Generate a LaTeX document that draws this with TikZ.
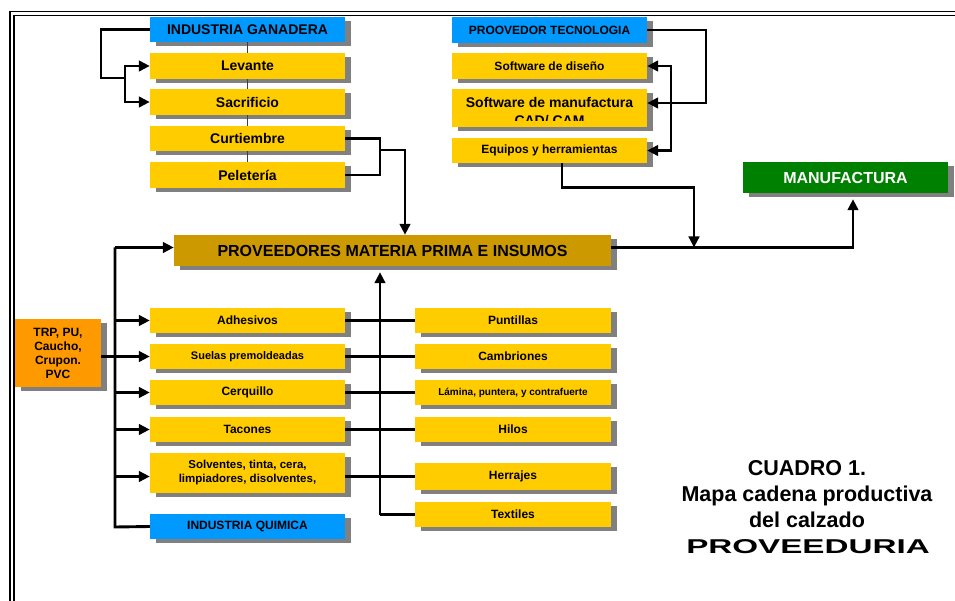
\documentclass[tikz,border=0pt]{standalone}
\usepackage{fontspec}
\setmainfont{Liberation Sans}
\usetikzlibrary{arrows.meta,shadows}
\definecolor{cblue}{HTML}{0099FF}
\definecolor{cyel}{HTML}{FFCC00}
\definecolor{cgold}{HTML}{CC9900}
\definecolor{corange}{HTML}{FF9900}
\definecolor{cgreen}{HTML}{008000}
\definecolor{cshadow}{HTML}{808080}
\definecolor{cthin}{HTML}{404040}
\newcommand\myfs[1]{\fontsize{#1}{#1}\selectfont\bfseries}
\newcommand\myfsl[2]{\fontsize{#1}{#2}\selectfont\bfseries}
\tikzset{
  box/.style={rectangle, inner sep=0pt, align=center, text=black,
    general shadow={fill=cshadow, shadow xshift=6pt, shadow yshift=-4pt}},
  ybox/.style={box, fill=cyel, minimum width=195pt, minimum height=26pt},
  rbox/.style={box, fill=cyel, minimum width=196pt, minimum height=26pt},
  bbox/.style={box, fill=cblue, minimum width=195pt, minimum height=26pt},
  conn/.style={line width=2.9pt, black},
  arr/.style={conn, -{Triangle[length=11pt,width=10.5pt]}},
  thinl/.style={line width=1.2pt, cthin},
  frame/.style={line width=1.4pt, black}
}
\begin{document}
\begin{tikzpicture}[x=1pt,y=-1pt]
\useasboundingbox (0,0) rectangle (955,601);
\fill[white] (0,0) rectangle (955,601);
% frame
\draw[frame] (10,601) -- (10,11.7) -- (955,11.7);
\draw[frame] (14,601) -- (14,15.7) -- (955,15.7);

% ganadera column
\node[bbox, minimum height=25pt, font={\myfs{14}}] (gan) at (247.5,29.5) {INDUSTRIA GANADERA};
\node[ybox, font={\myfs{14}}] (lev) at (247.5,66) {Levante};
\node[ybox, font={\myfs{14}}] (sac) at (247.5,102) {Sacrificio};
\node[ybox, minimum height=25pt, font={\myfs{14}}] (cur) at (247.5,138.5) {Curtiembre};
\node[ybox, font={\myfs{14}}] (pel) at (247.5,175) {Peletería};

% tecnologia column
\node[bbox, font={\myfs{12}}] (tec) at (549.5,30) {PROOVEDOR TECNOLOGIA};
\node[ybox, font={\myfs{12}}] (swd) at (549.5,66) {Software de diseño};
\node[ybox, minimum height=38pt, font={\myfs{14}}, text height=10.2pt, text depth=10.9pt] (swm) at (549.5,108) {Software de manufactura};
\begin{scope}
\clip (452,110) rectangle (647,121);
\node[font={\myfs{14}}, anchor=base, inner sep=0pt] (cad) at (549.5,126) {CAD/ CAM};
\end{scope}
\node[ybox, minimum height=25pt, font={\myfs{12}}] (equ) at (549.5,150.5) {Equipos y herramientas};

% main boxes
\node[box, fill=cgreen, text=white, minimum width=205pt, minimum height=31pt, font={\myfs{16}}] (man) at (845.5,177.5) {MANUFACTURA};
\node[box, fill=cgold, minimum width=437pt, minimum height=31pt, font={\myfs{16}}] (prov) at (392.5,250.5) {PROVEEDORES MATERIA PRIMA E INSUMOS};
\node[box, fill=corange, minimum width=86pt, minimum height=68pt, font={\myfsl{12}{14}}] (trp) at (58,353) {TRP, PU,\\Caucho,\\Crupon.\\PVC};

% left column
\node[ybox, minimum height=25pt, font={\myfs{12}}] (adh) at (247.5,320.5) {Adhesivos};
\node[ybox, minimum height=25pt, font={\myfs{11}}] (sue) at (247.5,356.5) {Suelas premoldeadas};
\node[ybox, minimum height=25pt, font={\myfs{12}}] (cer) at (247.5,392.5) {Cerquillo};
\node[ybox, minimum height=25pt, font={\myfs{12}}] (tac) at (247.5,429.5) {Tacones};
\node[ybox, minimum height=40pt, font={\myfsl{11.5}{14}}] (sol) at (247.5,473) {Solventes, tinta, cera,\\limpiadores, disolventes,};
\node[bbox, minimum height=25pt, font={\myfs{12}}] (qui) at (247.5,526.5) {INDUSTRIA QUIMICA};

% right column
\node[rbox, minimum height=25pt, font={\myfs{12}}] (pun) at (513,320.5) {Puntillas};
\node[rbox, minimum height=25pt, font={\myfs{12}}] (cam) at (513,356.5) {Cambriones};
\node[rbox, minimum height=25pt, font={\myfs{10}}] (lam) at (513,392.5) {Lámina, puntera, y contrafuerte};
\node[rbox, minimum height=25pt, font={\myfs{12}}] (hil) at (513,429.5) {Hilos};
\node[rbox, minimum height=27pt, font={\myfs{12}}] (her) at (513,476.5) {Herrajes};
\node[rbox, minimum height=25pt, font={\myfs{12}}] (tex) at (513,514.5) {Textiles};

% title
\node[anchor=base, inner sep=0pt, font={\myfs{21.5}}] (t1) at (807,475) {CUADRO 1.};
\node[anchor=base, inner sep=0pt, font={\myfs{21.5}}] (t2) at (807,501) {Mapa cadena productiva};
\node[anchor=base, inner sep=0pt, font={\myfs{21.5}}] (t3) at (807,527) {del calzado};
\node[anchor=base, inner sep=0pt, font={\myfs{20}}] (t4) at (808,553) {\scalebox{1.66}[1]{PROVEEDURIA}};

% ganadera connectors
\draw[thinl] (gan.south) -- (lev.north) (lev.south) -- (sac.north)
  (sac.south) -- (cur.north) (cur.south) -- (pel.north);
\coordinate (gj) at (125,78);
\draw[conn] (gan.west) -| (101,78) -- (gj);
\draw[arr] (gj) |- (lev.west);
\draw[arr] (gj) |- (sac.west);
\draw[conn] (cur.east) -| (380,175) -- (pel.east);
\coordinate (cj) at (380,150);
\draw[arr] (cj) -| ([xshift=12.5pt]prov.north);

% tecnologia connectors
\draw[arr] (tec.east) -| (706,103) -- ([yshift=5pt]swm.east);
\coordinate (tk) at (671,103);
\draw[arr] (tk) |- (swd.east);
\draw[arr] (tk) |- (equ.east);
\coordinate (ej) at (694,247.5);
\draw[arr] ([xshift=12.5pt]equ.south) -- ++(0,24) -| (ej);
\draw[arr, shorten >=6pt] ([yshift=3pt]prov.east) -| ([xshift=7.5pt]man.south);

% left bus
\coordinate (bt) at (115,247.5);
\coordinate (bb) at (115,527);
\draw[conn] (bt) -- (bb) -- (qui.west);
\draw[arr] (bt) -- (bt -| prov.west);
\draw[conn] ([yshift=-3.5pt]trp.east) -- (bt |- sue.west);
\draw[arr] (bt |- adh.west) -- (adh.west);
\draw[arr] (bt |- sue.west) -- (sue.west);
\draw[arr] (bt |- cer.west) -- (cer.west);
\draw[arr] (bt |- tac.west) -- (tac.west);
\draw[arr] (bt |- her.west) -- (her.west -| sol.west);

% right bus
\coordinate (rb) at (380,514.5);
\draw[arr, shorten >=6pt] (rb) -- (rb |- prov.south);
\draw[conn] (rb) -- (tex.west);
\draw[conn] (adh.east) -- (pun.west);
\draw[conn] (sue.east) -- (cam.west);
\draw[conn] (cer.east) -- (lam.west);
\draw[conn] (tac.east) -- (hil.west);
\draw[conn] (her.west -| sol.east) -- (her.west);
\end{tikzpicture}
\end{document}
